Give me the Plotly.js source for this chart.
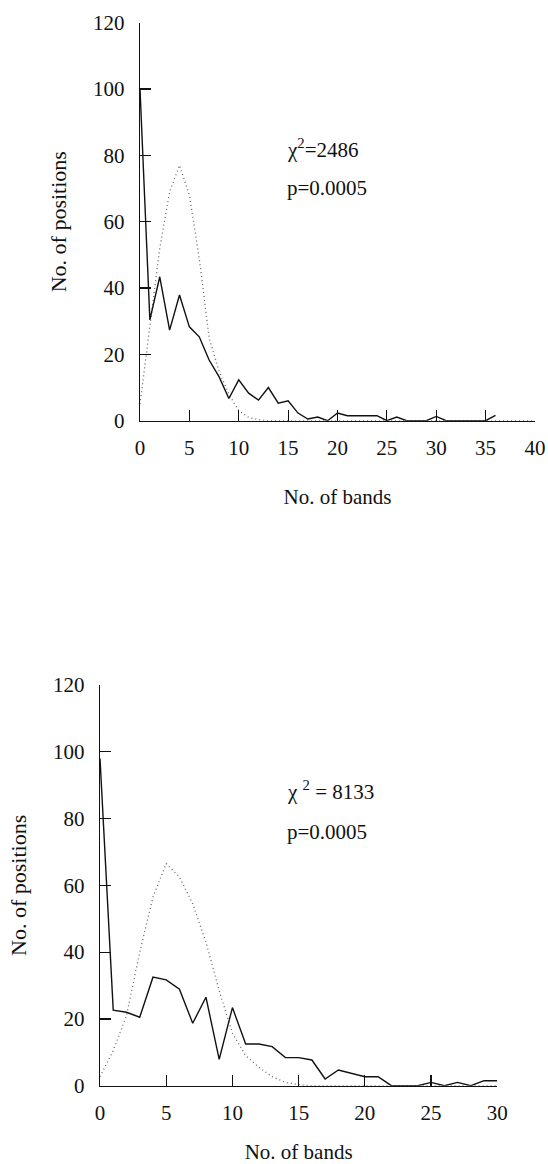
<!DOCTYPE html>
<html>
<head>
<meta charset="utf-8">
<script src="https://cdn.plot.ly/plotly-3.0.1.min.js"></script>
<style>html,body{margin:0;padding:0;background:#fff;}#chart{width:548px;height:1164px;}</style>
</head>
<body>
<div id="chart"></div>
<script>
// ---- Data ----
const topBands = [0,1,2,3,4,5,6,7,8,9,10,11,12,13,14,15,16,17,18,19,20,21,22,23,24,25,26,27,28,29,30,31,32,33,34,35,36];
const topObserved = [100,30.4,43.4,27.3,37.9,28.3,25.3,18.3,13.3,6.7,12.3,8.3,6.2,10,5.3,6,2.3,0.5,1.1,0,2.3,1.5,1.5,1.5,1.5,0,1.1,0,0,0,1.3,0,0,0,0,0,1.6];
const topExpBands = [0,1,2,3,4,5,6,7,8,9,10,11,12,13,14,15,20,25,30,35,40];
const topExpected = [5,28,52,69,77,68,49,25,15,8,3,1,0.3,0,0,0,0,0,0,0,0];

const bottomBands = [0,1,2,3,4,5,6,7,8,9,10,11,12,13,14,15,16,17,18,19,20,21,22,23,24,25,26,27,28,29,30];
const bottomObserved = [98,22.6,22,20.5,32.5,31.7,28.9,18.7,26.5,7.9,23.4,12.5,12.5,11.7,8.4,8.4,7.7,2,4.7,3.7,2.7,2.7,0,0,0,1,0,1,0,1.5,1.5];
const bottomExpBands = [0,1,2,3,4,5,6,7,8,9,10,11,12,13,14,15,16,20,25,30];
const bottomExpected = [2.7,10.5,21,40,56.5,66.5,62.5,54.5,43,28.5,15.7,9,5.5,2.7,1,0.3,0,0,0,0];

const xTitle = "No. of bands";
const yTitle = "No. of positions";
const topChi = "χ<sup>2</sup>=2486";
const bottomChi = "χ <sup>2</sup> = 8133";
const pText = "p=0.0005";

// ---- Layout helpers ----
const W = 548, H = 1164;
const px = v => v / W;
const py = v => 1 - v / H;
const FONT = "Liberation Serif";

const solid = {color: "#111", width: 1.4};
const dotted = {color: "#666", width: 1.3, dash: "1px,3px"};

const traces = [
  {x: topExpBands, y: topExpected, type: "scatter", mode: "lines", line: dotted, xaxis: "x", yaxis: "y"},
  {x: topBands, y: topObserved, type: "scatter", mode: "lines", line: solid, xaxis: "x", yaxis: "y"},
  {x: bottomExpBands, y: bottomExpected, type: "scatter", mode: "lines", line: dotted, xaxis: "x2", yaxis: "y2"},
  {x: bottomBands, y: bottomObserved, type: "scatter", mode: "lines", line: solid, xaxis: "x2", yaxis: "y2"}
];

const axisCommon = {
  showgrid: false, zeroline: false, showline: true, linecolor: "#111", linewidth: 1.3,
  ticks: "inside", ticklen: 11, tickwidth: 1.2, tickcolor: "#111",
  tickfont: {family: FONT, size: 21, color: "#111"},
  fixedrange: true
};

const layout = {
  width: W, height: H,
  margin: {l: 0, r: 0, t: 0, b: 0},
  paper_bgcolor: "#fff", plot_bgcolor: "#fff",
  showlegend: false,
  font: {family: FONT, color: "#111", size: 21},
  xaxis: Object.assign({}, axisCommon, {
    domain: [px(140), px(535)], range: [0, 40], tickvals: [0,5,10,15,20,25,30,35,40],
    anchor: "y", ticklabelstandoff: 8,
    title: {text: xTitle, font: {family: FONT, size: 21, color: "#111"}, standoff: 30}
  }),
  yaxis: Object.assign({}, axisCommon, {
    domain: [py(420.7), py(22.7)], range: [0, 120], tickvals: [0,20,40,60,80,100,120],
    anchor: "x", ticklabelstandoff: 10,
    title: {text: yTitle, font: {family: FONT, size: 22, color: "#111"}, standoff: 20}
  }),
  xaxis2: Object.assign({}, axisCommon, {
    domain: [px(100), px(497.3)], range: [0, 30], tickvals: [0,5,10,15,20,25,30],
    anchor: "y2", ticklabelstandoff: 8,
    title: {text: xTitle, font: {family: FONT, size: 21, color: "#111"}, standoff: 30}
  }),
  yaxis2: Object.assign({}, axisCommon, {
    domain: [py(1085.7), py(685)], range: [0, 120], tickvals: [0,20,40,60,80,100,120],
    anchor: "x2", ticklabelstandoff: 10,
    title: {text: yTitle, font: {family: FONT, size: 22, color: "#111"}, standoff: 20}
  }),
  annotations: [
    {xref: "paper", yref: "paper", x: px(285), y: py(148), xanchor: "left", yanchor: "middle", text: topChi, showarrow: false, font: {family: FONT, size: 21, color: "#111"}},
    {xref: "paper", yref: "paper", x: px(285), y: py(188), xanchor: "left", yanchor: "middle", text: pText, showarrow: false, font: {family: FONT, size: 21, color: "#111"}},
    {xref: "paper", yref: "paper", x: px(285), y: py(790), xanchor: "left", yanchor: "middle", text: bottomChi, showarrow: false, font: {family: FONT, size: 21, color: "#111"}},
    {xref: "paper", yref: "paper", x: px(285), y: py(832), xanchor: "left", yanchor: "middle", text: pText, showarrow: false, font: {family: FONT, size: 21, color: "#111"}}
  ]
};

Plotly.newPlot("chart", traces, layout, {displayModeBar: false, staticPlot: true});
</script>
</body>
</html>
